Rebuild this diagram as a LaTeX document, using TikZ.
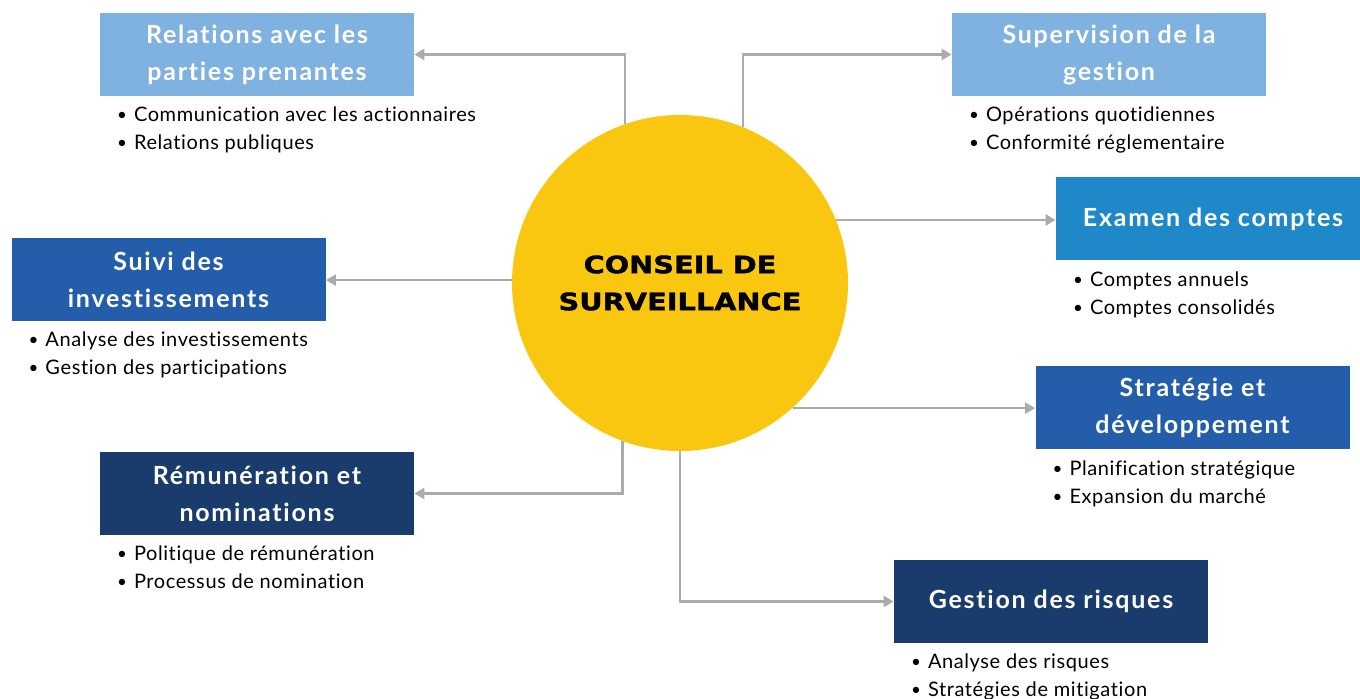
\documentclass[tikz,border=0pt]{standalone}
\usepackage{fontspec}
\setmainfont{Lato}[Ligatures=NoCommon]
\newfontfamily\topicfont{Lato}[Ligatures=NoCommon,LetterSpace=7]
\newfontfamily\itemfont{Lato}[Ligatures=NoCommon,LetterSpace=3]
\newfontfamily\hubfont{DejaVu Sans}[FakeStretch=1.2,FakeBold=1.5]
\usepackage{xcolor}
\usetikzlibrary{arrows.meta,positioning}

\definecolor{paleblue}{HTML}{7FB2E0}
\definecolor{midblue}{HTML}{1E88C8}
\definecolor{royalblue}{HTML}{245EAB}
\definecolor{navyblue}{HTML}{1A3C6C}
\definecolor{sunyellow}{HTML}{FAC710}
\definecolor{linkgray}{HTML}{ABABAB}

\newcommand{\puce}{\makebox[8.5pt][l]{\raisebox{0.4pt}{\fontsize{8.5}{8.5}\selectfont\textbullet}}}

\begin{document}
\begin{tikzpicture}[x=0.5pt,y=-0.5pt]
                        \tikzset{Topic/.style={%
                                shape=rectangle,%
                                text=white,%
                                minimum width=157pt,%
                                minimum height=41.5pt,%
                                inner sep=0pt,%
                                align=center,%
                                font=\topicfont\fontsize{12.5}{18.5}\selectfont\bfseries,%
                            },
                            Items/.style={%
                                align=left,%
                                inner sep=0pt,%
                                anchor=north west,%
                                font=\itemfont\fontsize{10}{14}\selectfont,%
                            },
                            link/.style={%
                                draw=linkgray,%
                                line width=1.25pt,%
                                -{Triangle[length=5pt,width=5.5pt]},%
                            }}

                            \useasboundingbox (0,0) rectangle (1360,699);

                            \node[shape=circle, fill=sunyellow, minimum size=168pt, inner sep=0pt,
                                  align=center, font=\hubfont\bfseries\fontsize{12}{18.5}\selectfont]
                                  (hub) at (680,283) {CONSEIL DE\\SURVEILLANCE};

                            \node[Topic, fill=paleblue] (rel) at (257,54.5) {Relations avec les\\parties prenantes};
                            \node[Topic, fill=paleblue] (sup) at (1109,54.5) {Supervision de la\\gestion};
                            \node[Topic, fill=midblue] (exa) at (1213,219) {Examen des comptes};
                            \node[Topic, fill=royalblue] (sui) at (168.5,279.5) {Suivi des\\investissements};
                            \node[Topic, fill=royalblue] (str) at (1192.5,408) {Stratégie et\\développement};
                            \node[Topic, fill=navyblue] (rem) at (257,493.5) {Rémunération et\\nominations};
                            \node[Topic, fill=navyblue] (ges) at (1051,601.5) {Gestion des risques};

                            \node[Items, below right=5pt and 8.5pt of rel.south west] (relL)
                                {\puce Communication avec les actionnaires\\\puce Relations publiques};
                            \node[Items, below right=5pt and 8.5pt of sup.south west] (supL)
                                {\puce Opérations quotidiennes\\\puce Conformité réglementaire};
                            \node[Items, below right=5pt and 8.5pt of exa.south west] (exaL)
                                {\puce Comptes annuels\\\puce Comptes consolidés};
                            \node[Items, below right=5pt and 8.5pt of sui.south west] (suiL)
                                {\puce Analyse des investissements\\\puce Gestion des participations};
                            \node[Items, below right=5pt and 8.5pt of str.south west] (strL)
                                {\puce Planification stratégique\\\puce Expansion du marché};
                            \node[Items, below right=5pt and 8.5pt of rem.south west] (remL)
                                {\puce Politique de rémunération\\\puce Processus de nomination};
                            \node[Items, below right=5pt and 8.5pt of ges.south west] (gesL)
                                {\puce Analyse des risques\\\puce Stratégies de mitigation};

                            \draw[link] (hub.109.5) |- (rel.east);
                            \draw[link] (hub.68) |- (sup.west);
                            \draw[link] (hub.22.8) -- (hub.22.8 -| exa.west);
                            \draw[link] (hub.179) -- (hub.179 -| sui.east);
                            \draw[link] (hub.-48.1) -- (hub.-48.1 -| str.west);
                            \draw[link] (hub.-110.2) |- (rem.east);
                            \draw[link] (hub.south) |- (ges.west);
                    \end{tikzpicture}
\end{document}
